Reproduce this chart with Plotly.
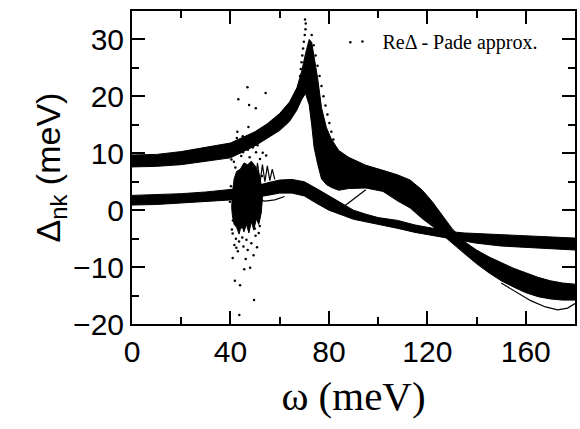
import plotly.graph_objects as go

# ---------------- data ----------------
# upper band (A): top / bottom edges of the dense bundle of curves
omega_A = [0, 10, 20, 30, 40, 50, 55, 60, 64, 67, 69, 70.5, 72, 73, 74, 75.5, 77, 79, 81, 84, 88,
           95, 102, 108, 113, 118, 122, 126, 130, 135, 140, 145, 150, 155, 160, 165, 170, 175, 180]
A_top = [9.7, 9.8, 10.3, 11.0, 11.8, 13.8, 15.2, 17.0, 19.0, 21.5, 24.5, 27.5, 30.0, 29.5, 27.0, 23.0,
         18.0, 14.5, 12.5, 10.5, 9.3, 7.9, 7.0, 6.2, 5.3, 3.5, 1.5, -0.8, -3.2, -5.5, -7.0, -8.2, -9.2,
         -10.2, -11.0, -11.8, -12.4, -12.8, -13.0]
A_bot = [7.6, 7.7, 8.0, 8.6, 9.2, 11.3, 12.6, 14.0, 15.6, 17.6, 19.5, 20.5, 18.5, 15.0, 11.0, 8.0,
         5.5, 4.5, 4.0, 3.5, 3.8, 3.9, 3.3, 1.6, 0.4, -1.5, -2.8, -4.2, -5.8, -7.6, -9.4, -11.0, -12.4,
         -13.5, -14.5, -15.2, -15.6, -15.8, -15.8]

# lower band (B)
omega_B = [0, 10, 20, 30, 40, 48, 55, 60, 65, 70, 75, 80, 85, 90, 95, 100, 108, 115, 120, 125, 130,
           135, 140, 150, 160, 170, 180]
B_top = [2.6, 2.7, 2.9, 3.2, 3.7, 4.0, 4.8, 5.3, 5.4, 5.0, 3.8, 2.5, 1.2, 0.0, -0.7, -1.3, -1.8,
         -2.6, -3.0, -3.4, -3.8, -4.0, -4.1, -4.3, -4.5, -4.7, -4.9]
B_bot = [0.9, 1.0, 1.2, 1.5, 1.8, 2.1, 2.6, 3.0, 3.0, 2.5, 1.2, 0.0, -0.8, -1.6, -2.1, -2.5, -3.2,
         -3.9, -4.3, -4.6, -5.0, -5.4, -5.8, -6.3, -6.6, -6.8, -7.0]

# dense noisy core near omega ~ 40-53 meV
cluster_w = [40.5, 40.8, 41.5, 42.5, 44.0, 45.5, 47.0, 48.5, 50.0, 51.5, 52.5, 53.0, 52.5, 51.5,
             50.5, 49.5, 48.5, 47.5, 46.5, 45.5, 44.5, 43.5, 42.5, 41.5, 40.8]
cluster_d = [0.5, 3.0, 5.5, 6.8, 7.2, 8.3, 8.0, 8.6, 7.8, 6.5, 4.5, 2.0, -0.5, -2.5, -1.5, -3.5,
             -2.0, -4.0, -2.5, -3.8, -2.5, -4.2, -3.0, -2.5, -1.0]

# scattered Pade outliers
noise_w = [46.9, 54.3, 43.2, 47.6, 50.3, 42.6, 40.4, 41.4, 43.7, 45.1, 47.1, 49.1, 50.4, 53.1, 54.5,
           44.4, 47.8, 42.0, 41.0, 40.9, 41.6, 45.3, 49.4, 40.9, 45.6, 48.0, 49.6, 43.6, 42.2, 43.5,
           44.8, 46.5, 48.5, 50.2, 51.5, 47.0, 43.0, 50.8, 41.3, 42.8, 44.1, 46.0, 48.9, 51.0, 52.0,
           39.8, 40.2, 52.8, 53.6, 46.2, 44.6, 42.4, 49.9, 51.9, 45.0, 47.3, 41.8, 43.9, 88.7, 40.6]
noise_d = [21.6, 20.6, 19.5, 18.5, 17.9, 12.7, 8.9, 8.5, 10.1, 10.2, 10.6, 11.0, 10.2, 10.1, 9.6,
           9.5, 9.3, 7.5, -1.8, -4.1, -6.1, -6.4, -7.9, -8.4, -10.4, -10.1, -15.8, -18.4, -5.0, -5.5,
           -4.8, -5.2, -5.8, -4.5, -4.0, -7.0, -7.2, -6.5, 11.5, 13.8, 12.2, 11.8, 12.8, 11.4, 9.0,
           1.5, 4.2, 6.0, 3.2, -8.6, -3.0, -6.6, -3.2, -2.8, 13.0, 14.6, -12.4, -13.2, 29.5, -3.4]

# dotted outlier strands around the peak
strandL_w = [70.3, 70.6, 70.5, 70.2, 69.8, 69.5, 69.2, 68.9, 68.6, 68.3]
strandL_d = [33.5, 32.8, 31.8, 30.8, 29.6, 28.4, 27.2, 26.0, 24.8, 23.6]
strandR_w = [73.0, 73.8, 74.6, 75.4, 76.2, 77.0, 77.8, 78.6, 79.4, 80.2, 81.0, 81.8]
strandR_d = [30.8, 29.0, 27.2, 25.4, 23.6, 21.8, 20.0, 18.4, 16.8, 15.3, 13.8, 12.4]

# individual stray curves
wave_w = [47, 48.5, 50, 51, 52, 53, 54, 55, 56, 57, 58]
wave_d = [6.0, 8.5, 5.0, 8.3, 4.8, 8.0, 5.0, 7.8, 5.2, 7.2, 5.4]
under_w = [50, 54, 58, 62]
under_d = [2.0, 1.6, 1.8, 2.4]
link_w = [85, 95]
link_d = [0.3, 3.6]
tail_w = [150, 156, 162, 168, 173, 177, 180]
tail_d = [-12.8, -14.4, -15.9, -17.0, -17.5, -17.2, -16.4]

legend_label = "ReΔ - Pade approx."
x_ticks = [0, 40, 80, 120, 160]
y_ticks = [-20, -10, 0, 10, 20, 30]

# ---------------- figure ----------------
fig = go.Figure()


def band(w, top, bot):
    return go.Scatter(x=list(w) + list(w)[::-1], y=list(top) + list(bot)[::-1],
                      fill="toself", fillcolor="black", mode="lines",
                      line=dict(color="black", width=1), showlegend=False, hoverinfo="skip")


fig.add_trace(band(omega_A, A_top, A_bot))
fig.add_trace(band(omega_B, B_top, B_bot))
fig.add_trace(go.Scatter(x=cluster_w + cluster_w[:1], y=cluster_d + cluster_d[:1], fill="toself",
                         fillcolor="black", mode="lines", line=dict(color="black", width=1),
                         showlegend=False))
for w, d in [(wave_w, wave_d), (under_w, under_d), (link_w, link_d), (tail_w, tail_d)]:
    fig.add_trace(go.Scatter(x=w, y=d, mode="lines", line=dict(color="black", width=1.2),
                             showlegend=False))
for w, d in [(strandL_w, strandL_d), (strandR_w, strandR_d)]:
    fig.add_trace(go.Scatter(x=w, y=d, mode="markers", marker=dict(color="black", size=2.5),
                             showlegend=False))
fig.add_trace(go.Scatter(x=noise_w, y=noise_d, mode="markers", name=legend_label,
                         marker=dict(color="black", size=2.5), showlegend=True))

axis_common = dict(showline=True, linecolor="black", linewidth=2, mirror="ticks", ticks="inside",
                   ticklen=13, tickwidth=2, tickcolor="black", showgrid=False, zeroline=False,
                   tickfont=dict(family="Liberation Sans", size=30, color="black"))

fig.update_xaxes(range=[0, 180], tickvals=x_ticks,
                 minor=dict(ticks="inside", ticklen=7, tickwidth=2, dtick=20, tick0=0, tickcolor="black"),
                 title=dict(text="ω (meV)", font=dict(family="Liberation Serif", size=41, color="black"),
                            standoff=14),
                 **axis_common)
fig.update_yaxes(range=[-20, 35], tickvals=y_ticks,
                 minor=dict(ticks="inside", ticklen=7, tickwidth=2, dtick=5, tick0=0, tickcolor="black"),
                 title=dict(text="Δ<sub>nk</sub> (meV)",
                            font=dict(family="Liberation Sans", size=34, color="black"), standoff=2),
                 **axis_common)

fig.update_layout(width=580, height=429, margin=dict(l=132, r=3, t=11, b=105),
                  paper_bgcolor="white", plot_bgcolor="white",
                  legend=dict(x=0.475, y=0.965, xanchor="left", yanchor="top",
                              bgcolor="rgba(0,0,0,0)", borderwidth=0, itemwidth=30,
                              font=dict(family="Liberation Serif", size=20, color="black")))

fig.write_html("out.html")
